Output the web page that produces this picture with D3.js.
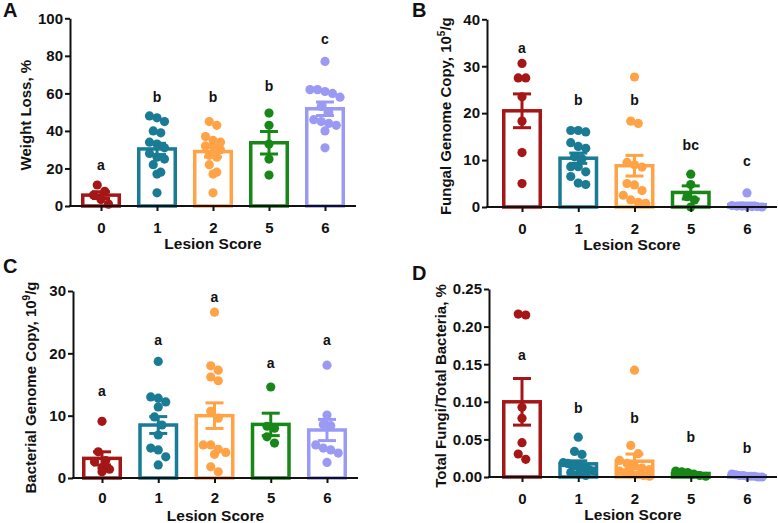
<!DOCTYPE html>
<html>
<head>
<meta charset="utf-8">
<script src="https://cdn.jsdelivr.net/npm/d3@7"></script>
<style>
  body { margin: 0; background: #fff; }
  text { font-family: "Liberation Sans", Arial, sans-serif; font-weight: bold; fill: #111; }
</style>
</head>
<body>
<svg id="chart" width="778" height="523"></svg>
<script>
// categories and colours shared by all four panels
var categories = ["0", "1", "2", "5", "6"];
var groupColors = ["#a51616", "#1a7b95", "#ffa346", "#178717", "#9a9af5"];

// A - weight loss
var weightLoss = [
    [11.2, 7.8, 5.8, 3.4, 1.0],
    [48, 47, 45, 40, 39, 34, 33, 31, 28, 26, 25, 22, 18, 17, 7],
    [45, 43, 37, 35, 34, 32, 32, 30, 27, 26, 22, 18, 17, 7],
    [49.5, 43, 33, 25, 16.5],
    [77, 62, 62, 61, 60, 58, 53, 50, 46, 45, 44, 43, 40, 31]
];
var weightLossMean = [5.8, 30.4, 29.0, 33.7, 51.8];
var weightLossSem = [1.8, 3.0, 2.9, 6.0, 3.6];
var weightLossLetters = ["a", "b", "b", "b", "c"];
var weightLossLetterAt = [21.8, 58.2, 58.2, 64, 88.8];
var weightLossTicks = [0, 20, 40, 60, 80, 100];

// B - fungal genome copy
var fungal = [
    [30.6, 27.5, 27.5, 23.5, 18.3, 11.6, 5.0],
    [16.3, 16.0, 16.3, 13.7, 12.9, 12.5, 10.7, 10.3, 8.6, 8.6, 7.5, 6.5, 5.1, 4.8],
    [27.7, 18.3, 17.8, 9.5, 9.0, 8.5, 5.0, 4.7, 3.5, 2.5, 1.5, 1.0, 0.8],
    [7.0, 4.8, 2.2, 1.5, 0.0],
    [3.0, 0.3, 0.2, 0.2, 0.1, 0.1, 0.1, 0.0]
];
var fungalMean = [20.5, 10.4, 8.8, 3.1, 0.5];
var fungalSem = [3.6, 1.1, 2.2, 1.4, 0.35];
var fungalLetters = ["a", "b", "b", "bc", "c"];
var fungalLetterAt = [33.8, 22.8, 22.8, 13.2, 9.8];
var fungalTicks = [0, 10, 20, 30, 40];

// C - bacterial genome copy
var bacterial = [
    [9.1, 4.2, 2.8, 2.6, 1.6, 1.4, 1.0],
    [18.7, 13.0, 12.8, 12.2, 11.4, 9.8, 8.5, 6.9, 4.8, 4.5, 3.4, 2.1],
    [26.6, 18.0, 17.3, 16.2, 15.6, 10.7, 9.6, 5.3, 5.3, 4.6, 4.1, 3.8, 1.8, 1.0],
    [14.6, 8.3, 8.0, 6.6, 5.6],
    [18.1, 10.1, 8.6, 8.4, 5.3, 4.8, 4.5, 4.0, 2.5]
];
var bacterialMean = [3.15, 8.5, 10.0, 8.6, 7.7];
var bacterialSem = [1.05, 1.35, 2.05, 1.8, 1.7];
var bacterialLetters = ["a", "a", "a", "a", "a"];
var bacterialLetterAt = [13.9, 22.2, 29.1, 18.4, 22.2];
var bacterialTicks = [0, 10, 20, 30];

// D - fungi / bacteria ratio
var ratio = [
    [0.2167, 0.2154, 0.0926, 0.078, 0.0456, 0.0306, 0.0235],
    [0.053, 0.034, 0.030, 0.019, 0.018, 0.016, 0.015, 0.013, 0.012, 0.010, 0.008, 0.006, 0.004, 0.002],
    [0.142, 0.042, 0.031, 0.022, 0.018, 0.015, 0.012, 0.010, 0.008, 0.006, 0.004, 0.003, 0.002, 0.001],
    [0.008, 0.007, 0.006, 0.004, 0.002, 0.001],
    [0.004, 0.003, 0.002, 0.002, 0.001, 0.001, 0.001, 0.0, 0.0]
];
var ratioMean = [0.100, 0.0175, 0.021, 0.0047, 0.0015];
var ratioSem = [0.031, 0.004, 0.0095, 0.0012, 0.0005];
var ratioLetters = ["a", "b", "b", "b", "b"];
var ratioLetterAt = [0.162, 0.092, 0.078, 0.0536, 0.039];
var ratioTicks = [0, 0.05, 0.10, 0.15, 0.20, 0.25];

var svg = d3.select("#chart");
var dotR = 4.6;

// prism-style scatter: dots that fall in the same row (one dot high)
// are laid side by side around the column centre
function swarm(vals, y, cx)
{
    var pts = vals.map(function(v) { return { v: v, py: y(v), dx: 0 }; });
    var sorted = pts.slice().sort(function(a, b) { return a.py - b.py; });
    var rows = [], row = null;
    sorted.forEach(function(p) {
        if (!row || p.py - row.start > dotR * 2) {
            row = { start: p.py, items: [] };
            rows.push(row);
        }
        row.items.push(p);
    });
    rows.forEach(function(r) {
        var n = r.items.length;
        var step = n > 1 ? Math.min(7.5, 30 / (n - 1)) : 0;
        r.items.forEach(function(p, j) { p.dx = (j - (n - 1) / 2) * step; });
    });
    pts.forEach(function(p) { p.px = cx + p.dx; });
    return pts;
}

function drawPanel(cfg)
{
    var g = svg.append("g");
    var x = d3.scalePoint().domain(categories).range(cfg.centers);
    var y = d3.scaleLinear().domain([0, cfg.ticks[cfg.ticks.length - 1]]).range([cfg.yBot, cfg.yTop]);
    var barW = 36.5;

    // bars
    g.selectAll("rect.bar")
        .data(cfg.mean)
        .enter().append("rect")
        .attr("class", "bar")
        .attr("x", function(d, i) { return x(categories[i]) - barW / 2; })
        .attr("y", function(d) { return y(d); })
        .attr("width", barW)
        .attr("height", function(d) { return y(0) - y(d); })
        .attr("fill", "#fff")
        .attr("stroke", function(d, i) { return groupColors[i]; })
        .attr("stroke-width", 3.5);

    // dots
    cfg.values.forEach(function(vals, i) {
        var pts = swarm(vals, y, x(categories[i]));
        g.selectAll(null)
            .data(pts)
            .enter().append("circle")
            .attr("cx", function(d) { return d.px; })
            .attr("cy", function(d) { return d.py; })
            .attr("r", dotR)
            .attr("fill", groupColors[i]);
    });

    // error bars (mean +/- sem)
    cfg.mean.forEach(function(m, i) {
        var cx = x(categories[i]);
        var lo = Math.max(0, m - cfg.sem[i]), hi = m + cfg.sem[i];
        var eb = g.append("g").attr("stroke", groupColors[i]).attr("stroke-width", 3);
        eb.append("line").attr("x1", cx).attr("x2", cx).attr("y1", y(lo)).attr("y2", y(hi));
        eb.append("line").attr("x1", cx - 9).attr("x2", cx + 9).attr("y1", y(hi)).attr("y2", y(hi));
        eb.append("line").attr("x1", cx - 9).attr("x2", cx + 9).attr("y1", y(lo)).attr("y2", y(lo));
    });

    // significance letters
    g.selectAll("text.sig")
        .data(cfg.letters)
        .enter().append("text")
        .attr("class", "sig")
        .attr("x", function(d, i) { return x(categories[i]); })
        .attr("y", function(d, i) { return y(cfg.letterAt[i]); })
        .attr("dy", "0.35em")
        .attr("text-anchor", "middle")
        .style("font-size", "14px")
        .text(function(d) { return d; });

    // y axis
    var yAxis = g.append("g")
        .attr("transform", "translate(" + cfg.x0 + ",0)")
        .call(d3.axisLeft(y).tickValues(cfg.ticks).tickFormat(cfg.fmt).tickSize(5).tickSizeOuter(0).tickPadding(2));
    yAxis.selectAll("path, line").attr("stroke", "#111").attr("stroke-width", 2);
    yAxis.selectAll("text").style("font-size", "15px").attr("fill", "#111");

    // x axis
    var xAxis = g.append("g")
        .attr("transform", "translate(0," + cfg.yBot + ")")
        .call(d3.axisBottom(x).tickSize(5).tickPadding(cfg.xPad));
    xAxis.select(".domain").remove();
    xAxis.append("line")
        .attr("x1", cfg.x0 - 1).attr("x2", cfg.x1)
        .attr("stroke", "#111").attr("stroke-width", 2);
    xAxis.selectAll(".tick line").attr("stroke", "#111").attr("stroke-width", 2);
    xAxis.selectAll("text").style("font-size", "15px").attr("fill", "#111");

    g.append("text")
        .attr("x", (cfg.x0 + cfg.x1) / 2)
        .attr("y", cfg.yBot + 43)
        .attr("text-anchor", "middle")
        .style("font-size", "15.5px")
        .text("Lesion Score");

    // y title, rotated, with optional superscript
    var yt = g.append("text")
        .attr("transform", "translate(" + (cfg.x0 - cfg.yTitleOff) + "," + ((cfg.yTop + cfg.yBot) / 2 + 3) + ") rotate(-90)")
        .attr("text-anchor", "middle")
        .style("font-size", "15px");
    yt.append("tspan").text(cfg.title[0]);
    if (cfg.title.length > 1) {
        yt.append("tspan").attr("dy", -6).style("font-size", "10px").text(cfg.title[1]);
        yt.append("tspan").attr("dy", 6).text(cfg.title[2]);
    }

    // panel letter
    svg.append("text")
        .attr("x", cfg.tag[1])
        .attr("y", cfg.tag[2])
        .style("font-size", "20px")
        .text(cfg.tag[0]);
}

drawPanel({
    values: weightLoss, mean: weightLossMean, sem: weightLossSem,
    letters: weightLossLetters, letterAt: weightLossLetterAt, ticks: weightLossTicks,
    fmt: d3.format("d"),
    x0: 70, x1: 356, centers: [101, 325], yTop: 18.3, yBot: 206, xPad: 11,
    yTitleOff: 39, title: ["Weight Loss, %"], tag: ["A", 3, 17]
});

drawPanel({
    values: fungal, mean: fungalMean, sem: fungalSem,
    letters: fungalLetters, letterAt: fungalLetterAt, ticks: fungalTicks,
    fmt: d3.format("d"),
    x0: 487, x1: 777, centers: [522, 747], yTop: 19.3, yBot: 207, xPad: 11,
    yTitleOff: 36, title: ["Fungal Genome Copy, 10", "5", "/g"], tag: ["B", 412, 17]
});

drawPanel({
    values: bacterial, mean: bacterialMean, sem: bacterialSem,
    letters: bacterialLetters, letterAt: bacterialLetterAt, ticks: bacterialTicks,
    fmt: d3.format("d"),
    x0: 73, x1: 358, centers: [102, 327], yTop: 291, yBot: 478, xPad: 9,
    yTitleOff: 37, title: ["Bacterial Genome Copy, 10", "9", "/g"], tag: ["C", 3, 273]
});

drawPanel({
    values: ratio, mean: ratioMean, sem: ratioSem,
    letters: ratioLetters, letterAt: ratioLetterAt, ticks: ratioTicks,
    fmt: d3.format(".2f"),
    x0: 489, x1: 777, centers: [522, 747], yTop: 289, yBot: 477, xPad: 11,
    yTitleOff: 43, title: ["Total Fungi/Total Bacteria, %"], tag: ["D", 412, 280]
});
</script>
</body>
</html>
